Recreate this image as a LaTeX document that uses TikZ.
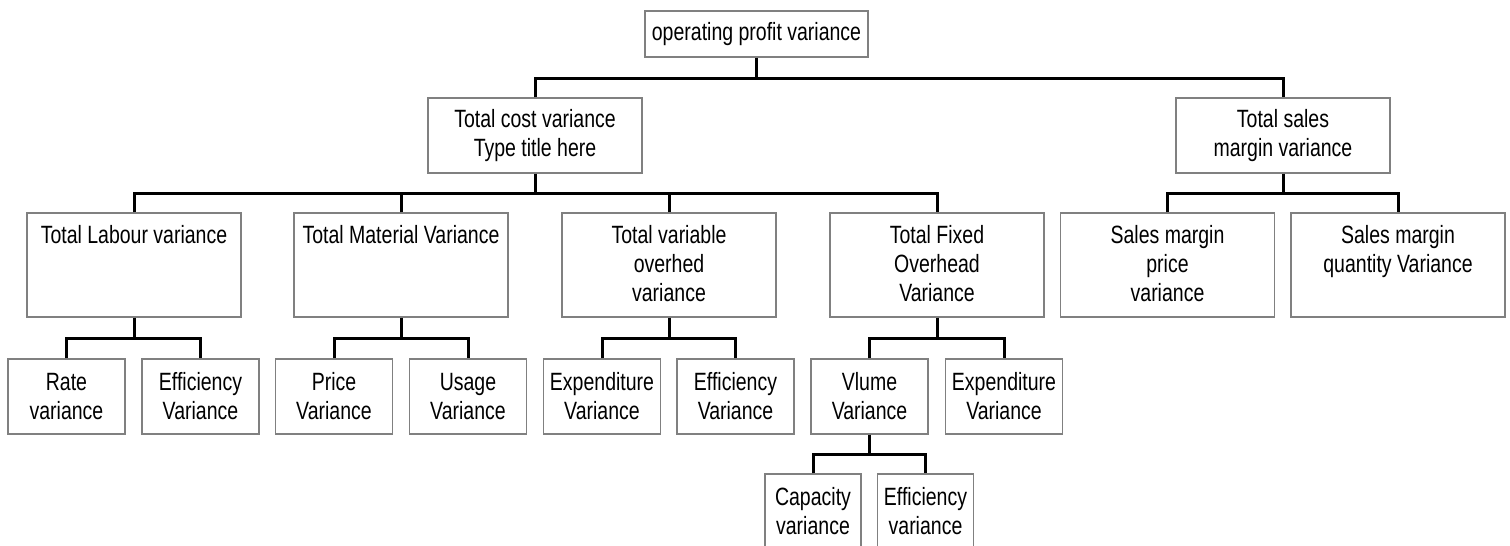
\documentclass[tikz,border=0pt]{standalone}
\usepackage{fontspec}
\setmainfont{Liberation Sans}[FakeStretch=0.78]
\begin{document}
\begin{tikzpicture}[x=1pt,y=-1pt,
  txt/.style={font=\fontsize{25}{29}\selectfont},
  box/.style={draw=black!50, line width=1.2pt, fill=white, inner sep=0pt, align=center, txt},
  lvtwo/.style={box, minimum width=214pt, minimum height=104pt},
  lvthree/.style={box, minimum width=117pt, minimum height=75pt},
  lvfour/.style={box, minimum width=96pt, minimum height=75pt},
  lbl/.style={inner sep=0pt, align=center, anchor=north, txt},
  conn/.style={line width=3pt, black}]
\useasboundingbox (0,0) rectangle (1510,546);
% levels of the connector bars
\coordinate (ya) at (0,78);
\coordinate (yb) at (0,193);
\coordinate (yc) at (0,338);
\coordinate (yd) at (0,454);
% top
\node[box, minimum width=223pt, minimum height=46pt] (op) at (756.5,34) {operating profit variance};
% level 1
\node[box, minimum width=214pt, minimum height=75pt] (cost) at (535,135.5) {Total cost variance\\Type title here};
\node[box, minimum width=214pt, minimum height=75pt] (sales) at (1283,135.5) {Total sales\\margin variance};
% level 2
\node[lvtwo] (labour) at (134,265) {};
\node[lvtwo] (material) at (401,265) {};
\node[lvtwo] (varoh) at (669,265) {};
\node[lvtwo] (fixed) at (937,265) {};
\node[lvtwo] (smp) at (1167.5,265) {};
\node[lvtwo] (smq) at (1398,265) {};
\node[lbl] (tlabour) at (134,225) {Total Labour variance};
\node[lbl] (tmaterial) at (401,225) {Total Material Variance};
\node[lbl] (tvaroh) at (669,225) {Total variable\\overhed\\variance};
\node[lbl] (tfixed) at (937,225) {Total Fixed\\Overhead\\Variance};
\node[lbl] (tsmp) at (1167.5,225) {Sales margin\\price\\variance};
\node[lbl] (tsmq) at (1398,225) {Sales margin\\quantity Variance};
% level 3
\node[lvthree] (rate) at (66.5,396.5) {Rate\\variance};
\node[lvthree] (effl) at (200.5,396.5) {Efficiency\\Variance};
\node[lvthree] (price) at (334,396.5) {Price\\Variance};
\node[lvthree] (usage) at (468,396.5) {Usage\\Variance};
\node[lvthree] (expv) at (602,396.5) {Expenditure\\Variance};
\node[lvthree] (effv) at (735.5,396.5) {Efficiency\\Variance};
\node[lvthree] (vol) at (869.5,396.5) {Vlume\\Variance};
\node[lvthree] (expf) at (1004,396.5) {Expenditure\\Variance};
% level 4
\node[lvfour] (cap) at (813,511.5) {Capacity\\variance};
\node[lvfour] (efff) at (925.5,511.5) {Efficiency\\variance};
% connectors
\draw[conn] (op.south) -- (op.south |- ya);
\draw[conn] (cost.north) |- (sales.north |- ya) -- (sales.north);
\draw[conn] (cost.south) -- (cost.south |- yb);
\draw[conn] (labour.north) |- (fixed.north |- yb) -- (fixed.north);
\draw[conn] (material.north) -- (material.north |- yb);
\draw[conn] (varoh.north) -- (varoh.north |- yb);
\draw[conn] (sales.south) -- (sales.south |- yb);
\draw[conn] (smp.north) |- (smq.north |- yb) -- (smq.north);
\draw[conn] (labour.south) -- (labour.south |- yc);
\draw[conn] (rate.north) |- (effl.north |- yc) -- (effl.north);
\draw[conn] (material.south) -- (material.south |- yc);
\draw[conn] (price.north) |- (usage.north |- yc) -- (usage.north);
\draw[conn] (varoh.south) -- (varoh.south |- yc);
\draw[conn] (expv.north) |- (effv.north |- yc) -- (effv.north);
\draw[conn] (fixed.south) -- (fixed.south |- yc);
\draw[conn] (vol.north) |- (expf.north |- yc) -- (expf.north);
\draw[conn] (vol.south) -- (vol.south |- yd);
\draw[conn] (cap.north) |- (efff.north |- yd) -- (efff.north);
\end{tikzpicture}
\end{document}
